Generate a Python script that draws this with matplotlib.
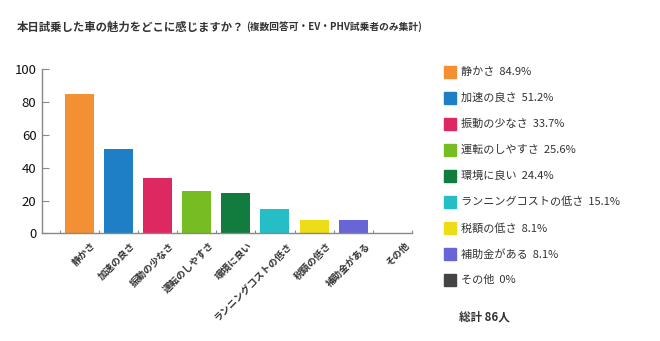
import matplotlib
matplotlib.use("Agg")
import matplotlib.pyplot as plt
import matplotlib.transforms as mtransforms
from matplotlib.patches import Rectangle

plt.rcParams['font.family'] = ['Noto Sans CJK JP', 'DejaVu Sans']

# data
labels = ["静かさ", "加速の良さ", "振動の少なさ", "運転のしやすさ", "環境に良い",
          "ランニングコストの低さ", "税額の低さ", "補助金がある", "その他"]
values = [84.9, 51.2, 33.7, 25.6, 24.4, 15.1, 8.1, 8.1, 0]
colors = ["#F39034", "#1F7FC6", "#DE2862", "#76BC23", "#127B3E",
          "#25BDC6", "#EDDC17", "#6866D6", "#444444"]
total_label = "総計 86人"
yticks = [0, 20, 40, 60, 80, 100]

W, H = 660, 341
fig = plt.figure(figsize=(W/100, H/100), dpi=100)
ax = fig.add_axes([42/W, 1-233.3/H, (412-42)/W, (233.3-69.3)/H])

x = list(range(len(values)))
ax.bar(x, values, width=0.74, color=colors)
ax.set_xlim(-0.95, 8.45)
ax.set_ylim(0, 100)
ax.set_yticks(yticks)
ax.tick_params(axis='y', direction='in', length=5, color='#888888', labelsize=9.5,
               pad=4, labelcolor='#111111')
ax.set_xticks([i + 0.5 for i in range(-1, len(values))], minor=False)
ax.set_xticklabels([])
ax.tick_params(axis='x', direction='in', length=2, color='#888888')
for s in ['top', 'right']:
    ax.spines[s].set_visible(False)
for s in ['left', 'bottom']:
    ax.spines[s].set_color('#888888')
    ax.spines[s].set_linewidth(1)

off = mtransforms.offset_copy(ax.get_xaxis_transform(), fig=fig, x=12, y=-7, units='dots')
for i, lab in enumerate(labels):
    ax.text(i, 0, lab, transform=off, rotation=45, ha='right', va='top',
            rotation_mode='anchor', fontsize=6.9, fontweight='bold', color='#333333')

# title
t1 = fig.text(17/W, 1-27/H, "本日試乗した車の魅力をどこに感じますか？", fontsize=8.2,
              fontweight='bold', color='#333333', va='center', ha='left')
r = fig.canvas.get_renderer()
bb = t1.get_window_extent(r)
fig.text((bb.x1 + 2)/W, 1-27/H, "(複数回答可・EV・PHV試乗者のみ集計)", fontsize=7,
         fontweight='bold', color='#333333', va='center', ha='left')

# legend
for i, (lab, v, c) in enumerate(zip(labels, values, colors)):
    yc = 72 + i * 26.0
    fig.patches.append(Rectangle((444/W, 1-(yc+6)/H), 12/W, 12/H, color=c,
                                 transform=fig.transFigure, figure=fig))
    vs = f"{v:g}%" if v else "0%"
    fig.text(461/W, 1-yc/H, f"{lab}  {vs}", fontsize=8, color='#333333',
             va='center', ha='left')
fig.text(459/W, 1-317/H, total_label, fontsize=8.3, fontweight='bold',
         color='#333333', va='center', ha='left')

fig.savefig("out.png", dpi=100)
